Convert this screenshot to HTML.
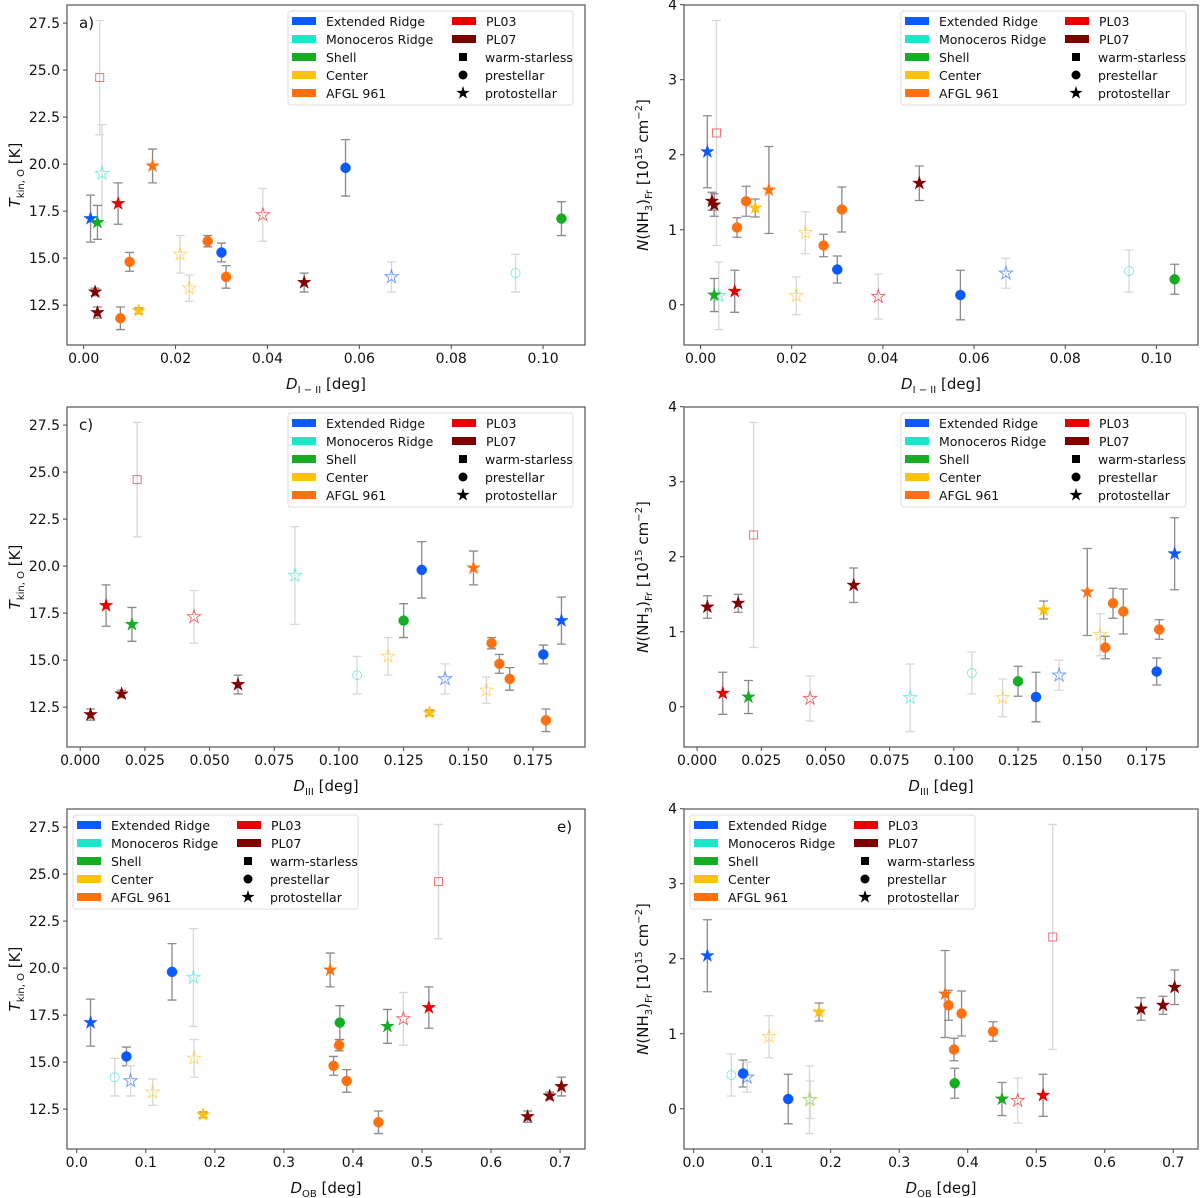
<!DOCTYPE html>
<html><head><meta charset="utf-8">
<style>
html,body{margin:0;padding:0;background:#fff;}
svg{display:block;font-family:"DejaVu Sans","Liberation Sans",sans-serif;}
</style></head>
<body>
<svg id="fig" width="1200" height="1198" viewBox="0 0 1200 1198" xmlns="http://www.w3.org/2000/svg"></svg>
<script>
// ---- data (one entry per source) ----
const regions = ['ER','ER','ER','ER','MR','MR','SH','SH','PL03','PL03','PL03','PL07','PL07','PL07','AF','AF','AF','AF','AF','CE','CE','CE'];
const markerTypes = ['star','circle','circle','star','star','circle','star','circle','square','star','star','star','star','star','star','circle','circle','circle','circle','star','star','star'];
const filledFlags = [1,1,1,0,0,0,1,1,0,1,0,1,1,1,1,1,1,1,1,1,0,0];
const distI_II = [0.0015,0.057,0.030,0.067,0.004,0.094,0.003,0.104,0.0035,0.0075,0.039,0.0025,0.003,0.048,0.015,0.008,0.010,0.027,0.031,0.012,0.021,0.023];
const distIII = [0.186,0.132,0.179,0.141,0.083,0.107,0.020,0.125,0.022,0.010,0.044,0.016,0.004,0.061,0.152,0.180,0.162,0.159,0.166,0.135,0.119,0.157];
const distOB = [0.020,0.138,0.072,0.078,0.169,0.055,0.450,0.381,0.524,0.510,0.473,0.685,0.653,0.702,0.367,0.437,0.372,0.380,0.391,0.183,0.170,0.110];
const tkin = [17.1,19.8,15.3,14.0,19.5,14.2,16.9,17.1,24.6,17.9,17.3,13.2,12.1,13.7,19.9,11.8,14.8,15.9,14.0,12.2,15.2,13.4];
const tkinErr = [1.25,1.5,0.5,0.8,2.6,1.0,0.9,0.9,3.04,1.1,1.4,0.2,0.3,0.5,0.9,0.6,0.5,0.3,0.6,0.15,1.0,0.7];
const nnh3 = [2.04,0.13,0.47,0.42,0.12,0.45,0.13,0.34,2.29,0.18,0.11,1.38,1.33,1.62,1.53,1.03,1.38,0.79,1.27,1.29,0.12,0.96];
const nnh3Err = [0.48,0.33,0.18,0.2,0.45,0.28,0.22,0.2,1.5,0.28,0.3,0.12,0.15,0.23,0.58,0.13,0.2,0.15,0.3,0.12,0.25,0.28];
const tTicks = [12.5,15.0,17.5,20.0,22.5,25.0,27.5];
const nTicks = [0,1,2,3,4];
const dI_IITicks = [0,0.02,0.04,0.06,0.08,0.10];
const dIIITicks = [0,0.025,0.05,0.075,0.1,0.125,0.15,0.175];
const dOBTicks = [0,0.1,0.2,0.3,0.4,0.5,0.6,0.7];
const legendRegions = ['Extended Ridge','Monoceros Ridge','Shell','Center','AFGL 961','PL03','PL07'];
const legendTypes = ['warm-starless','prestellar','protostellar'];

const colorMap = {ER:'#0a5aff',MR:'#17e8c8',SH:'#16ad25',CE:'#ffc20a',AF:'#ff7110',PL03:'#e60000',PL07:'#800000'};
const legendColors = ['#0a5aff','#17e8c8','#16ad25','#ffc20a','#ff7110','#e60000','#800000'];

const NS='http://www.w3.org/2000/svg';
const svg=document.getElementById('fig');
function mk(tag,attrs,parent){const e=document.createElementNS(NS,tag);for(const k in attrs)e.setAttribute(k,attrs[k]);(parent||svg).appendChild(e);return e;}
function lim(vals,errs){let lo=Infinity,hi=-Infinity;vals.forEach((v,i)=>{const e=errs?errs[i]:0;lo=Math.min(lo,v-e);hi=Math.max(hi,v+e);});const m=(hi-lo)*0.05;return [lo-m,hi+m];}
function starPath(cx,cy,R){const r=R*0.381;let d='';for(let i=0;i<10;i++){const a=-Math.PI/2+i*Math.PI/5;const rr=i%2?r:R;d+=(i?'L':'M')+(cx+rr*Math.cos(a)).toFixed(2)+','+(cy+rr*Math.sin(a)).toFixed(2);}return d+'Z';}

const panels=[
 {name:'panel-a',x0:67,x1:585,y0:5,y1:345,xs:distI_II,ys:tkin,ye:tkinErr,xt:dI_IITicks,xd:2,yt:tTicks,yd:1,xl:['D','I − II'],yk:'T',leg:'right',tag:'a)'},
 {name:'panel-b',x0:684,x1:1198,y0:5,y1:345,xs:distI_II,ys:nnh3,ye:nnh3Err,xt:dI_IITicks,xd:2,yt:nTicks,yd:0,xl:['D','I − II'],yk:'N',leg:'right',tag:''},
 {name:'panel-c',x0:67,x1:585,y0:407,y1:747,xs:distIII,ys:tkin,ye:tkinErr,xt:dIIITicks,xd:3,yt:tTicks,yd:1,xl:['D','III'],yk:'T',leg:'right',tag:'c)'},
 {name:'panel-d',x0:684,x1:1198,y0:407,y1:747,xs:distIII,ys:nnh3,ye:nnh3Err,xt:dIIITicks,xd:3,yt:nTicks,yd:0,xl:['D','III'],yk:'N',leg:'right',tag:''},
 {name:'panel-e',x0:67,x1:585,y0:809,y1:1149,xs:distOB,ys:tkin,ye:tkinErr,xt:dOBTicks,xd:1,yt:tTicks,yd:1,xl:['D','OB'],yk:'T',leg:'left',tag:'e)'},
 {name:'panel-f',x0:684,x1:1198,y0:809,y1:1149,xs:distOB,ys:nnh3,ye:nnh3Err,xt:dOBTicks,xd:1,yt:nTicks,yd:0,xl:['D','OB'],yk:'N',leg:'left',tag:''}
];

panels.forEach(p=>{
 const g=mk('g',{});
 
 
 const [xa,xb]=lim(p.xs,null), [ya,yb]=lim(p.ys,p.ye);
 const X=v=>p.x0+(v-xa)/(xb-xa)*(p.x1-p.x0);
 const Y=v=>p.y1-(v-ya)/(yb-ya)*(p.y1-p.y0);
 p.xt.forEach(t=>{const x=X(t);mk('line',{x1:x,x2:x,y1:p.y1,y2:p.y1+4,stroke:'#444','stroke-width':1},g);
  const tx=mk('text',{x:x,y:p.y1+18,'font-size':14,'text-anchor':'middle',fill:'#111'},g);tx.textContent=t.toFixed(p.xd);
  
  });
 p.yt.forEach(t=>{const y=Y(t);mk('line',{x1:p.x0-4,x2:p.x0,y1:y,y2:y,stroke:'#444','stroke-width':1},g);
  const tx=mk('text',{x:p.x0-7,y:y+5,'font-size':14,'text-anchor':'end',fill:'#111'},g);tx.textContent=t.toFixed(p.yd);
  
  });
 const xl=mk('text',{x:(p.x0+p.x1)/2,y:p.y1+44,'font-size':15,'text-anchor':'middle',fill:'#111'},g);
 
 
 xl.innerHTML='<tspan font-style="italic">'+p.xl[0]+'</tspan><tspan font-size="10" dy="4">'+p.xl[1]+'</tspan><tspan dy="-4"> [deg]</tspan>';
 const cy=(p.y0+p.y1)/2, lx=p.yk==='T'?p.x0-47:p.x0-36;
 const yl=mk('text',{x:lx,y:cy,'font-size':15,'text-anchor':'middle',fill:'#111',transform:'rotate(-90 '+lx+' '+cy+')'},g);
 
 
 if(p.yk==='T') yl.innerHTML='<tspan font-style="italic">T</tspan><tspan font-size="10" dy="4">kin, O</tspan><tspan dy="-4"> [K]</tspan>';
 else yl.innerHTML='<tspan font-style="italic">N</tspan><tspan>(NH</tspan><tspan font-size="10" dy="4">3</tspan><tspan dy="-4">)</tspan><tspan font-size="10" dy="4">Fr</tspan><tspan dy="-4"> [10</tspan><tspan font-size="10" dy="-6">15</tspan><tspan dy="6"> cm</tspan><tspan font-size="10" dy="-6">−2</tspan><tspan dy="6">]</tspan>';
 p.xs.forEach((xv,i)=>{const x=X(xv),ytop=Y(p.ys[i]+p.ye[i]),ybot=Y(p.ys[i]-p.ye[i]);
  const col=filledFlags[i]?'#8a8a8a':'#d8d8d8';
  const eb=mk('path',{d:`M${x},${ytop}L${x},${ybot}M${x-4.5},${ytop}L${x+4.5},${ytop}M${x-4.5},${ybot}L${x+4.5},${ybot}`,stroke:col,'stroke-width':1.3,fill:'none'},g);
  
  });
 p.xs.forEach((xv,i)=>{const x=X(xv),y=Y(p.ys[i]);const c=colorMap[regions[i]];const f=filledFlags[i];
  let m;
  const st=f?{fill:c,stroke:c,'stroke-width':0.5}:{fill:'none',stroke:c,'stroke-width':0.9,'stroke-opacity':0.6};
  if(markerTypes[i]==='star') m=mk('path',Object.assign({d:starPath(x,y,7)},st),g);
  else if(markerTypes[i]==='circle') m=mk('circle',Object.assign({cx:x,cy:y,r:f?5:4.5},st),g);
  else m=mk('rect',Object.assign({x:x-4,y:y-4,width:8,height:8},st),g);
  
  });
 const fr=mk('rect',{x:p.x0,y:p.y0,width:p.x1-p.x0,height:p.y1-p.y0,fill:'none',stroke:'#555','stroke-width':1.2},g);
 
 
 if(p.tag){const tx=p.leg==='left'?p.x1-28:p.x0+12;
  const t=mk('text',{x:tx,y:p.y0+23,'font-size':15,fill:'#111'},g);t.textContent=p.tag;
  
  }
 const lw=285,lh=94;const lx0=p.leg==='right'?p.x1-12-lw:p.x0+6;const ly0=p.y0+6;
 const lg=mk('g',{},g);
 
 
 mk('rect',{x:lx0,y:ly0,width:lw,height:lh,rx:3,fill:'#fff','fill-opacity':0.85,stroke:'#ddd','stroke-width':1},lg);
 legendRegions.forEach((name,k)=>{const col=k<5?0:1;const row=k<5?k:k-5;
  const px=lx0+(col?164:4), py=ly0+10+row*18;
  mk('rect',{x:px,y:py-4,width:24,height:8,fill:legendColors[k]},lg);
  const t=mk('text',{x:px+34,y:py+5,'font-size':12.5,fill:'#111'},lg);t.textContent=name;
  
  });
 legendTypes.forEach((name,k)=>{const row=k+2;const px=lx0+175, py=ly0+10+row*18;
  if(k===0) mk('rect',{x:px-4,y:py-4,width:8,height:8,fill:'#000'},lg);
  else if(k===1) mk('circle',{cx:px,cy:py,r:4.5,fill:'#000'},lg);
  else mk('path',{d:starPath(px,py,7),fill:'#000'},lg);
  const t=mk('text',{x:px+22,y:py+5,'font-size':12.5,fill:'#111'},lg);t.textContent=name;
  
  });
});
</script>
</body></html>
